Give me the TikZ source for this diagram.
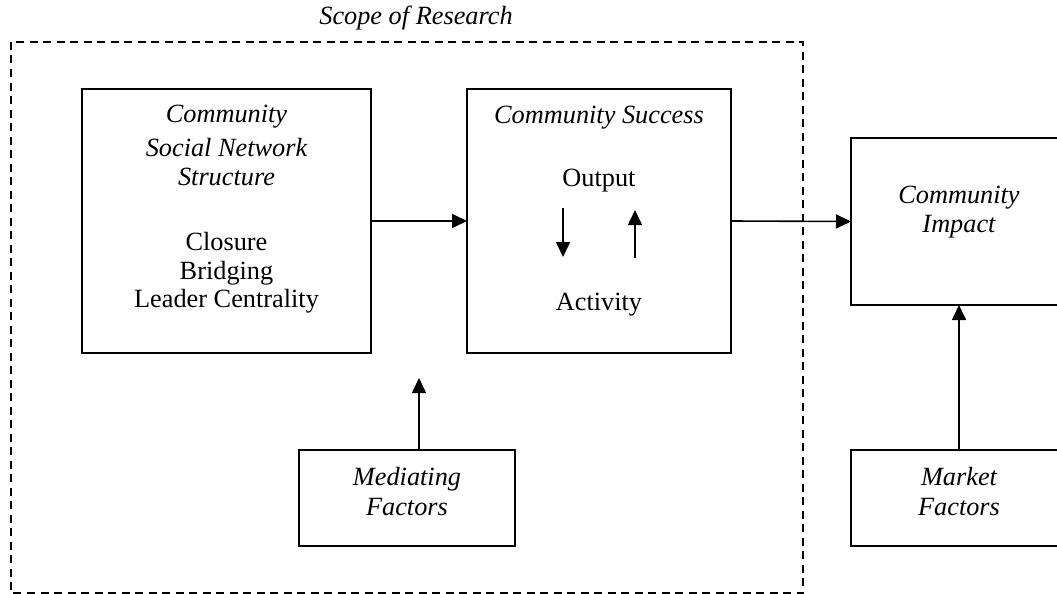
\documentclass[tikz,border=0pt]{standalone}
\usepackage{fontspec}
\setmainfont{Liberation Serif}
\usetikzlibrary{arrows.meta}
\begin{document}
\begin{tikzpicture}[x=1pt,y=-1pt,
  every node/.style={inner sep=0pt,outer sep=0pt},
  box/.style={draw,line width=2.2pt,rectangle},
  frame/.style={draw,line width=2pt,dash pattern=on 8pt off 5.5pt},
  txt/.style={anchor=base,font=\fontsize{26.3}{30}\selectfont},
  itxt/.style={txt,font=\fontsize{26.3}{30}\selectfont\itshape},
  link/.style={line width=1.6pt,-{Triangle[length=15pt,width=14pt]}}]
\useasboundingbox (0,0) rectangle (1057,594);

% scope of research frame
\draw[frame] (11,42) rectangle (803,593);
\node[itxt] (scopelbl) at (416,25) {Scope of Research};

% main boxes
\node[box,minimum width=289pt,minimum height=264pt] (net) at (226.5,221) {};
\node[box,minimum width=264pt,minimum height=264pt] (succ) at (599,221) {};
\node[box,minimum width=216pt,minimum height=167pt] (imp) at (959,221.5) {};
\node[box,minimum width=216pt,minimum height=96pt] (med) at (407,498) {};
\node[box,minimum width=216pt,minimum height=96pt] (mkt) at (959,498) {};

% texts of the network box
\node[itxt] (n1) at (226.5,122) {Community};
\node[itxt] (n2) at (226.5,156) {Social Network};
\node[itxt] (n3) at (226.5,185) {Structure};
\node[txt] (n4) at (226.5,250) {Closure};
\node[txt] (n5) at (226.5,279) {Bridging};
\node[txt] (n6) at (226.5,307) {Leader Centrality};

% texts of the success box
\node[itxt] (s1) at (599,123) {Community Success};
\node[txt] (s2) at (599,186) {Output};
\node[txt] (s3) at (599,310) {Activity};

% texts of the other boxes
\node[itxt] (i1) at (959,203) {Community};
\node[itxt] (i2) at (959,232) {Impact};
\node[itxt] (m1) at (407,485) {Mediating};
\node[itxt] (m2) at (407,515) {Factors};
\node[itxt] (k1) at (959,485) {Market};
\node[itxt] (k2) at (959,515) {Factors};

% connectors
\draw[link] (net.east) -- (succ.west);
\draw[link] (succ.east) -- (imp.west);
\coordinate (medtip) at (419,378);
\draw[link] (medtip |- med.north) -- (medtip);
\draw[link] (mkt.north) -- (imp.south);

% output / activity loop
\coordinate (dtop) at (563,208);
\coordinate (dbot) at (563,257);
\coordinate (ubot) at (635,258);
\coordinate (utop) at (635,210);
\draw[link] (dtop) -- (dbot);
\draw[link] (ubot) -- (utop);
\end{tikzpicture}
\end{document}
